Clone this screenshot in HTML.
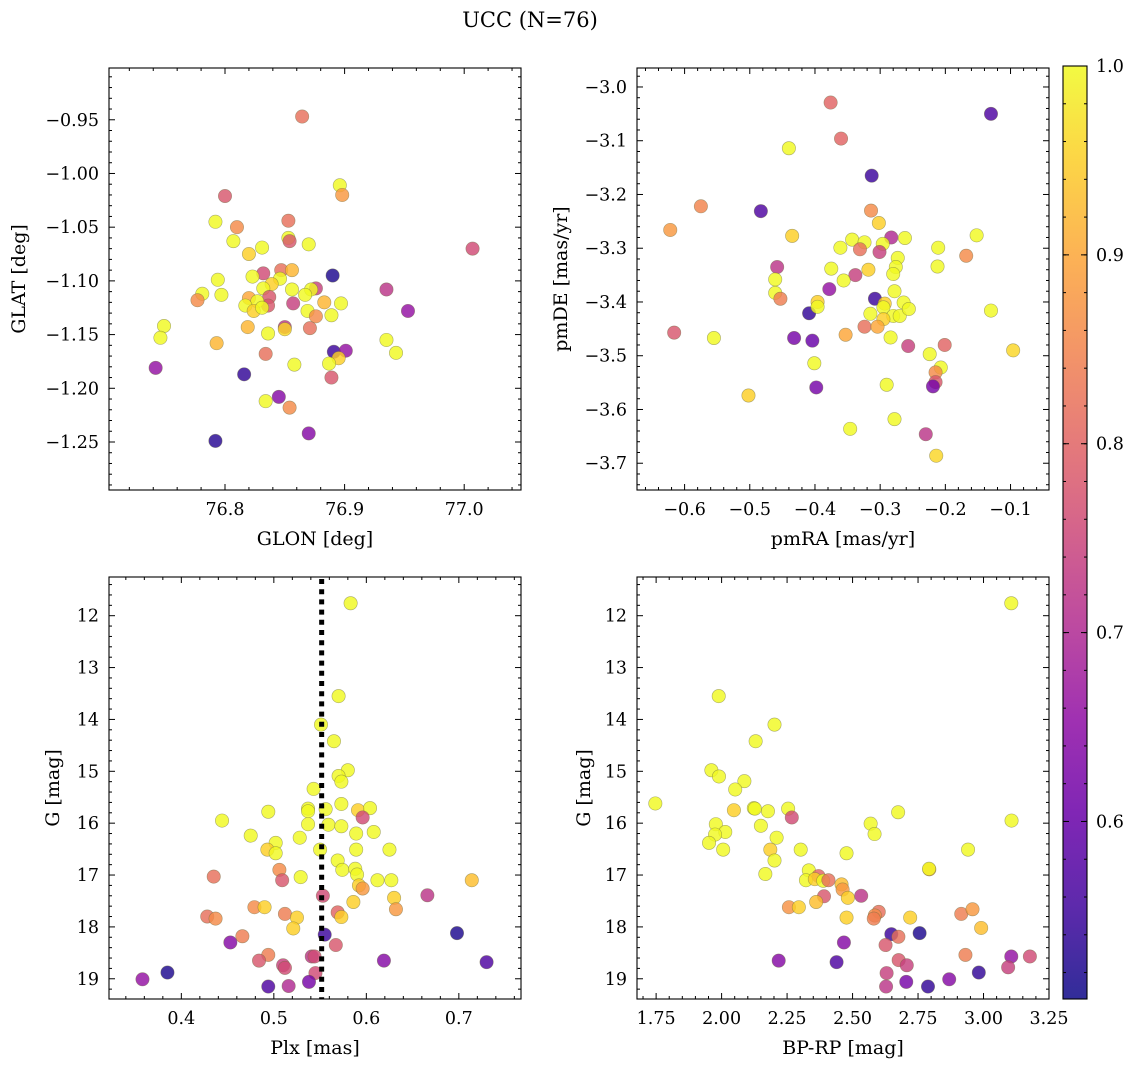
<!DOCTYPE html>
<html><head><meta charset="utf-8"><title>UCC (N=76)</title>
<style>
html,body{margin:0;padding:0;background:#fff;}
svg{display:block;font-family:"DejaVu Serif","Liberation Serif",serif;}
</style></head>
<body>
<svg id="fig" width="1136" height="1067" viewBox="0 0 1136 1067" xmlns="http://www.w3.org/2000/svg">
<rect width="1136" height="1067" fill="#fff"/>
<text x="530" y="27" text-anchor="middle" font-size="21">UCC (N=76)</text>
</svg>
<script>
// ---- Panel 1: GLON / GLAT ----
const p1glon=[76.8645,76.800,76.896,76.898,77.007,76.792,76.810,76.853,76.853,76.854,76.807,76.870,76.831,76.820,76.890,76.935,76.953,76.794,76.781,76.777,76.797,76.832,76.823,76.847,76.856,76.846,76.839,76.832,76.837,76.836,76.820,76.827,76.817,76.824,76.831,76.856,76.876,76.872,76.867,76.857,76.883,76.897,76.869,76.876,76.889,76.850,76.850,76.819,76.836,76.871,76.749,76.746,76.793,76.935,76.943,76.891,76.901,76.895,76.887,76.834,76.858,76.742,76.816,76.889,76.834,76.845,76.854,76.792,76.870];
const p1glat=[-0.947,-1.021,-1.011,-1.020,-1.070,-1.045,-1.050,-1.044,-1.060,-1.063,-1.063,-1.066,-1.069,-1.075,-1.095,-1.108,-1.128,-1.099,-1.112,-1.118,-1.113,-1.093,-1.096,-1.090,-1.090,-1.098,-1.103,-1.107,-1.115,-1.123,-1.116,-1.119,-1.123,-1.128,-1.125,-1.108,-1.107,-1.108,-1.113,-1.121,-1.120,-1.121,-1.128,-1.133,-1.132,-1.143,-1.145,-1.143,-1.149,-1.144,-1.142,-1.153,-1.158,-1.155,-1.167,-1.166,-1.165,-1.172,-1.177,-1.168,-1.178,-1.181,-1.187,-1.190,-1.212,-1.208,-1.218,-1.249,-1.242];
const p1prob=[0.82,0.78,1.0,0.88,0.76,1.0,0.86,0.82,1.0,0.78,1.0,1.0,1.0,0.95,0.52,0.72,0.66,1.0,1.0,0.86,1.0,0.76,1.0,0.82,0.92,1.0,0.95,1.0,0.78,0.78,0.9,1.0,1.0,0.95,1.0,1.0,0.74,1.0,1.0,0.74,0.92,1.0,1.0,0.86,1.0,0.72,0.96,0.92,1.0,0.82,1.0,1.0,0.92,1.0,1.0,0.55,0.66,0.95,1.0,0.82,1.0,0.66,0.54,0.78,1.0,0.64,0.86,0.53,0.64];
// ---- Panel 2: pmRA / pmDE ----
const p2pmra=[-0.376,-0.130,-0.360,-0.440,-0.313,-0.575,-0.483,-0.622,-0.314,-0.302,-0.435,-0.343,-0.324,-0.283,-0.262,-0.296,-0.361,-0.331,-0.301,-0.211,-0.152,-0.168,-0.212,-0.458,-0.375,-0.318,-0.338,-0.273,-0.276,-0.280,-0.356,-0.461,-0.461,-0.453,-0.378,-0.278,-0.308,-0.264,-0.293,-0.396,-0.130,-0.409,-0.396,-0.315,-0.295,-0.280,-0.270,-0.256,-0.295,-0.324,-0.304,-0.616,-0.555,-0.432,-0.404,-0.353,-0.284,-0.257,-0.201,-0.096,-0.224,-0.207,-0.215,-0.215,-0.219,-0.401,-0.398,-0.290,-0.502,-0.278,-0.346,-0.230,-0.214];
const p2pmde=[-3.029,-3.050,-3.096,-3.114,-3.165,-3.222,-3.231,-3.266,-3.230,-3.253,-3.277,-3.284,-3.289,-3.280,-3.281,-3.292,-3.299,-3.302,-3.307,-3.299,-3.276,-3.314,-3.334,-3.335,-3.338,-3.340,-3.350,-3.318,-3.335,-3.348,-3.360,-3.358,-3.383,-3.394,-3.376,-3.380,-3.394,-3.401,-3.403,-3.400,-3.416,-3.421,-3.409,-3.422,-3.410,-3.426,-3.426,-3.413,-3.432,-3.446,-3.446,-3.457,-3.467,-3.467,-3.472,-3.461,-3.466,-3.482,-3.480,-3.490,-3.497,-3.522,-3.531,-3.549,-3.557,-3.514,-3.559,-3.554,-3.574,-3.618,-3.636,-3.646,-3.686];
const p2prob=[0.8,0.57,0.8,1.0,0.55,0.85,0.57,0.88,0.86,0.95,0.95,1.0,1.0,0.7,1.0,1.0,1.0,0.82,0.74,1.0,1.0,0.86,1.0,0.72,1.0,0.95,0.74,1.0,1.0,1.0,1.0,1.0,1.0,0.84,0.66,1.0,0.55,1.0,0.95,0.95,1.0,0.54,1.0,1.0,1.0,1.0,1.0,1.0,0.95,0.82,0.9,0.78,1.0,0.62,0.6,0.9,1.0,0.74,0.8,0.96,1.0,1.0,0.86,0.78,0.62,1.0,0.62,1.0,0.95,1.0,1.0,0.72,0.96];
// ---- Panel 3: Plx / G ----
const p3plx=[0.583,0.570,0.551,0.565,0.580,0.570,0.573,0.543,0.573,0.556,0.537,0.537,0.591,0.604,0.596,0.494,0.444,0.537,0.559,0.573,0.589,0.608,0.475,0.502,0.528,0.493,0.502,0.550,0.589,0.625,0.569,0.574,0.588,0.590,0.529,0.506,0.509,0.435,0.612,0.627,0.714,0.592,0.596,0.666,0.553,0.630,0.586,0.632,0.479,0.490,0.569,0.573,0.512,0.525,0.521,0.428,0.437,0.555,0.698,0.466,0.453,0.567,0.619,0.730,0.494,0.484,0.510,0.512,0.541,0.544,0.545,0.385,0.358,0.538,0.494,0.516];
const p3g=[11.76,13.55,14.10,14.42,14.98,15.09,15.20,15.34,15.63,15.73,15.72,15.77,15.75,15.71,15.89,15.78,15.95,16.02,16.03,16.06,16.20,16.17,16.24,16.38,16.28,16.51,16.58,16.51,16.51,16.51,16.72,16.90,16.88,16.99,17.04,16.90,17.10,17.03,17.10,17.10,17.10,17.20,17.26,17.39,17.40,17.44,17.52,17.66,17.62,17.62,17.72,17.81,17.75,17.82,18.03,17.80,17.84,18.15,18.12,18.18,18.30,18.35,18.65,18.68,18.54,18.65,18.74,18.79,18.57,18.57,18.89,18.88,19.01,19.06,19.15,19.14];
const p3prob=[1.0,1.0,1.0,1.0,1.0,1.0,1.0,1.0,1.0,1.0,1.0,1.0,0.95,1.0,0.76,1.0,1.0,1.0,1.0,1.0,1.0,1.0,1.0,1.0,1.0,0.95,1.0,1.0,1.0,1.0,1.0,1.0,1.0,1.0,1.0,0.86,0.78,0.82,1.0,1.0,0.93,0.95,0.88,0.72,0.76,0.95,0.95,0.88,0.86,0.95,0.8,0.95,0.84,0.95,0.95,0.82,0.86,0.55,0.52,0.84,0.64,0.78,0.64,0.57,0.84,0.78,0.74,0.76,0.72,0.76,0.76,0.52,0.66,0.62,0.57,0.7];
const plxLine=0.5517;
// ---- Panel 4: BP-RP / G ----
const p4bprp=[3.106,1.989,2.202,2.130,1.961,1.990,2.087,2.052,1.747,2.047,2.123,2.127,2.177,2.254,2.268,2.674,3.107,1.978,2.569,2.014,1.975,2.584,2.150,2.210,1.952,2.006,2.186,2.302,2.477,2.941,2.202,2.167,2.333,2.793,2.792,2.370,2.322,2.356,2.388,2.408,2.458,2.462,2.533,2.482,2.391,2.361,2.257,2.295,2.600,2.585,2.581,2.477,2.720,2.915,2.958,2.991,2.648,2.675,2.756,2.467,2.626,2.218,2.439,2.676,2.707,2.931,3.106,3.177,3.094,2.630,2.982,2.869,2.705,2.628,2.788];
const p4g=[11.76,13.55,14.10,14.42,14.98,15.10,15.19,15.35,15.62,15.75,15.71,15.72,15.77,15.72,15.89,15.79,15.95,16.02,16.01,16.17,16.22,16.21,16.05,16.28,16.38,16.51,16.51,16.51,16.58,16.51,16.72,16.98,16.91,16.89,16.88,17.02,17.10,17.08,17.11,17.10,17.18,17.28,17.40,17.44,17.41,17.52,17.62,17.62,17.71,17.78,17.84,17.82,17.82,17.75,17.66,18.02,18.14,18.19,18.12,18.30,18.35,18.65,18.68,18.64,18.74,18.54,18.57,18.57,18.78,18.89,18.88,19.01,19.06,19.15,19.15];
const p4prob=[1.0,1.0,1.0,1.0,1.0,1.0,1.0,1.0,1.0,0.95,1.0,1.0,1.0,1.0,0.76,1.0,1.0,1.0,1.0,1.0,1.0,1.0,1.0,1.0,1.0,1.0,0.95,1.0,1.0,1.0,1.0,1.0,1.0,0.9,1.0,0.8,1.0,0.95,1.0,0.82,0.93,0.88,0.72,0.95,0.78,0.93,0.87,0.95,0.82,0.86,0.84,0.95,0.95,0.84,0.88,0.93,0.55,0.82,0.52,0.64,0.78,0.64,0.57,0.78,0.74,0.84,0.66,0.76,0.74,0.74,0.54,0.64,0.62,0.72,0.54];
// ---- colorbar ----
const cbTicks=[0.6,0.7,0.8,0.9,1.0];
const cbMin=0.506, cbMax=1.0;

const NS="http://www.w3.org/2000/svg";
const svg=document.getElementById('fig');
const TF=17.5, LF=19;
function mk(tag,attrs,parent){const e=document.createElementNS(NS,tag);for(const k in attrs)e.setAttribute(k,attrs[k]);(parent||svg).appendChild(e);return e;}
const plasma=[[13,8,135],[65,4,157],[106,0,168],[143,13,164],[177,42,144],[204,71,120],[225,100,98],[242,132,75],[252,166,54],[252,206,37],[240,249,33]];
function cmap(v){let t=(v-cbMin)/(cbMax-cbMin);t=Math.max(0,Math.min(1,t));const s=t*10;const i=Math.min(9,Math.floor(s));const f=s-i;const a=plasma[i],b=plasma[i+1];return 'rgb('+[0,1,2].map(k=>Math.round(a[k]+(b[k]-a[k])*f)).join(',')+')';}
function fmt(v,d){const s=Math.abs(v).toFixed(d);return (v<-1e-9?'\u2212':'')+s;}

function panel(o){
  const g=mk('g',{});
  
  
  const sx=v=>o.x0+(v-o.xmin)/(o.xmax-o.xmin)*(o.x1-o.x0);
  const sy=o.invert?(v=>o.y0+(v-o.ymin)/(o.ymax-o.ymin)*(o.y1-o.y0)):(v=>o.y1-(v-o.ymin)/(o.ymax-o.ymin)*(o.y1-o.y0));
  const tg=mk('g',{stroke:'#000','stroke-width':1},g);
  
  
  const eps=1e-9;
  for(let v=Math.ceil(o.xmin/o.xminor-eps)*o.xminor;v<=o.xmax+eps;v+=o.xminor){
    const major=Math.abs(v/o.xmajor-Math.round(v/o.xmajor))<1e-6;const L=major?6:3;const x=sx(v);
    mk('line',{x1:x,x2:x,y1:o.y1,y2:o.y1-L},tg);mk('line',{x1:x,x2:x,y1:o.y0,y2:o.y0+L},tg);
    if(major){const t=mk('text',{x:x,y:o.y1+25,'text-anchor':'middle','font-size':TF,stroke:'none'},g);t.textContent=fmt(v,o.xdec);
      
      }
  }
  const ylo=Math.min(o.ymin,o.ymax),yhi=Math.max(o.ymin,o.ymax);
  for(let v=Math.ceil(ylo/o.yminor-eps)*o.yminor;v<=yhi+eps;v+=o.yminor){
    const major=Math.abs(v/o.ymajor-Math.round(v/o.ymajor))<1e-6;const L=major?6:3;const y=sy(v);
    mk('line',{x1:o.x0,x2:o.x0+L,y1:y,y2:y},tg);mk('line',{x1:o.x1,x2:o.x1-L,y1:y,y2:y},tg);
    if(major){const t=mk('text',{x:o.x0-10,y:y+6,'text-anchor':'end','font-size':TF,stroke:'none'},g);t.textContent=fmt(v,o.ydec);
      
      }
  }
  const pts=mk('g',{},g);
  
  
  for(let i=0;i<o.xs.length;i++){
    const c=mk('circle',{cx:sx(o.xs[i]),cy:sy(o.ys[i]),r:6.7,fill:cmap(o.cs[i]),'fill-opacity':0.82,stroke:'#6b6b40','stroke-opacity':0.55,'stroke-width':0.6},pts);
    
    
  }
  if(o.vline!==undefined){
    const l=mk('line',{x1:sx(o.vline),x2:sx(o.vline),y1:o.y0+2,y2:o.y1,stroke:'#000','stroke-width':5,'stroke-dasharray':'5 5.2'},g);
    
    
  }
  const fr=mk('rect',{x:o.x0,y:o.y0,width:o.x1-o.x0,height:o.y1-o.y0,fill:'none',stroke:'#000','stroke-width':1.1},g);
  
  
  const xl=mk('text',{x:(o.x0+o.x1)/2,y:o.y1+55,'text-anchor':'middle','font-size':LF},g);xl.textContent=o.xlabel;
  
  
  const yl=mk('text',{x:0,y:0,'text-anchor':'middle','font-size':LF,transform:'translate('+o.ylx+','+((o.y0+o.y1)/2)+') rotate(-90)'},g);yl.textContent=o.ylabel;
  
  
}

panel({name:'glon-glat-panel',x0:109,x1:521,y0:68,y1:490,xmin:76.703,xmax:77.0475,ymin:-1.2947,ymax:-0.9018,xmajor:0.1,xminor:0.02,ymajor:0.05,yminor:0.01,xdec:1,ydec:2,xs:p1glon,ys:p1glat,cs:p1prob,xlabel:'GLON [deg]',ylabel:'GLAT [deg]',ylx:25});
panel({name:'pm-panel',x0:637,x1:1049,y0:68,y1:490,xmin:-0.673,xmax:-0.041,ymin:-3.7498,ymax:-2.9647,xmajor:0.1,xminor:0.02,ymajor:0.1,yminor:0.02,xdec:1,ydec:1,xs:p2pmra,ys:p2pmde,cs:p2prob,xlabel:'pmRA [mas/yr]',ylabel:'pmDE [mas/yr]',ylx:567});
panel({name:'plx-g-panel',x0:109,x1:521,y0:577,y1:999,xmin:0.3218,xmax:0.7672,ymin:11.254,ymax:19.39,invert:true,xmajor:0.1,xminor:0.02,ymajor:1,yminor:0.2,xdec:1,ydec:0,xs:p3plx,ys:p3g,cs:p3prob,xlabel:'Plx [mas]',ylabel:'G [mag]',ylx:59,vline:plxLine});
panel({name:'cmd-panel',x0:637,x1:1049,y0:577,y1:999,xmin:1.677,xmax:3.25,ymin:11.254,ymax:19.39,invert:true,xmajor:0.25,xminor:0.05,ymajor:1,yminor:0.2,xdec:2,ydec:0,xs:p4bprp,ys:p4g,cs:p4prob,xlabel:'BP-RP [mag]',ylabel:'G [mag]',ylx:590});

// colorbar
(function(){
  const x0=1063,x1=1087,y0=66,y1=999;
  const g=mk('g',{});
  
  
  const defs=mk('defs',{},g);
  const lg=mk('linearGradient',{id:'cbg',x1:0,y1:1,x2:0,y2:0},defs);
  for(let i=0;i<=20;i++){const v=cbMin+(cbMax-cbMin)*i/20;const c=cmap(v);mk('stop',{offset:(i/20),'stop-color':c,'stop-opacity':0.85},lg);}
  mk('rect',{x:x0,y:y0,width:x1-x0,height:y1-y0,fill:'url(#cbg)'},g);
  const sy=v=>y1-(v-cbMin)/(cbMax-cbMin)*(y1-y0);
  for(let v=0.52;v<=cbMax+1e-9;v+=0.02){const y=sy(v);mk('line',{x1:x1,x2:x1-3,y1:y,y2:y,stroke:'#000'},g);mk('line',{x1:x0,x2:x0+3,y1:y,y2:y,stroke:'#000'},g);}
  for(const v of cbTicks){const y=sy(v);mk('line',{x1:x1,x2:x1-6,y1:y,y2:y,stroke:'#000'},g);mk('line',{x1:x0,x2:x0+6,y1:y,y2:y,stroke:'#000'},g);
    const t=mk('text',{x:x1+9,y:y+6,'font-size':TF},g);t.textContent=v.toFixed(1);
    
    }
  mk('rect',{x:x0,y:y0,width:x1-x0,height:y1-y0,fill:'none',stroke:'#000','stroke-width':1.1},g);
})();
</script>
</body></html>
